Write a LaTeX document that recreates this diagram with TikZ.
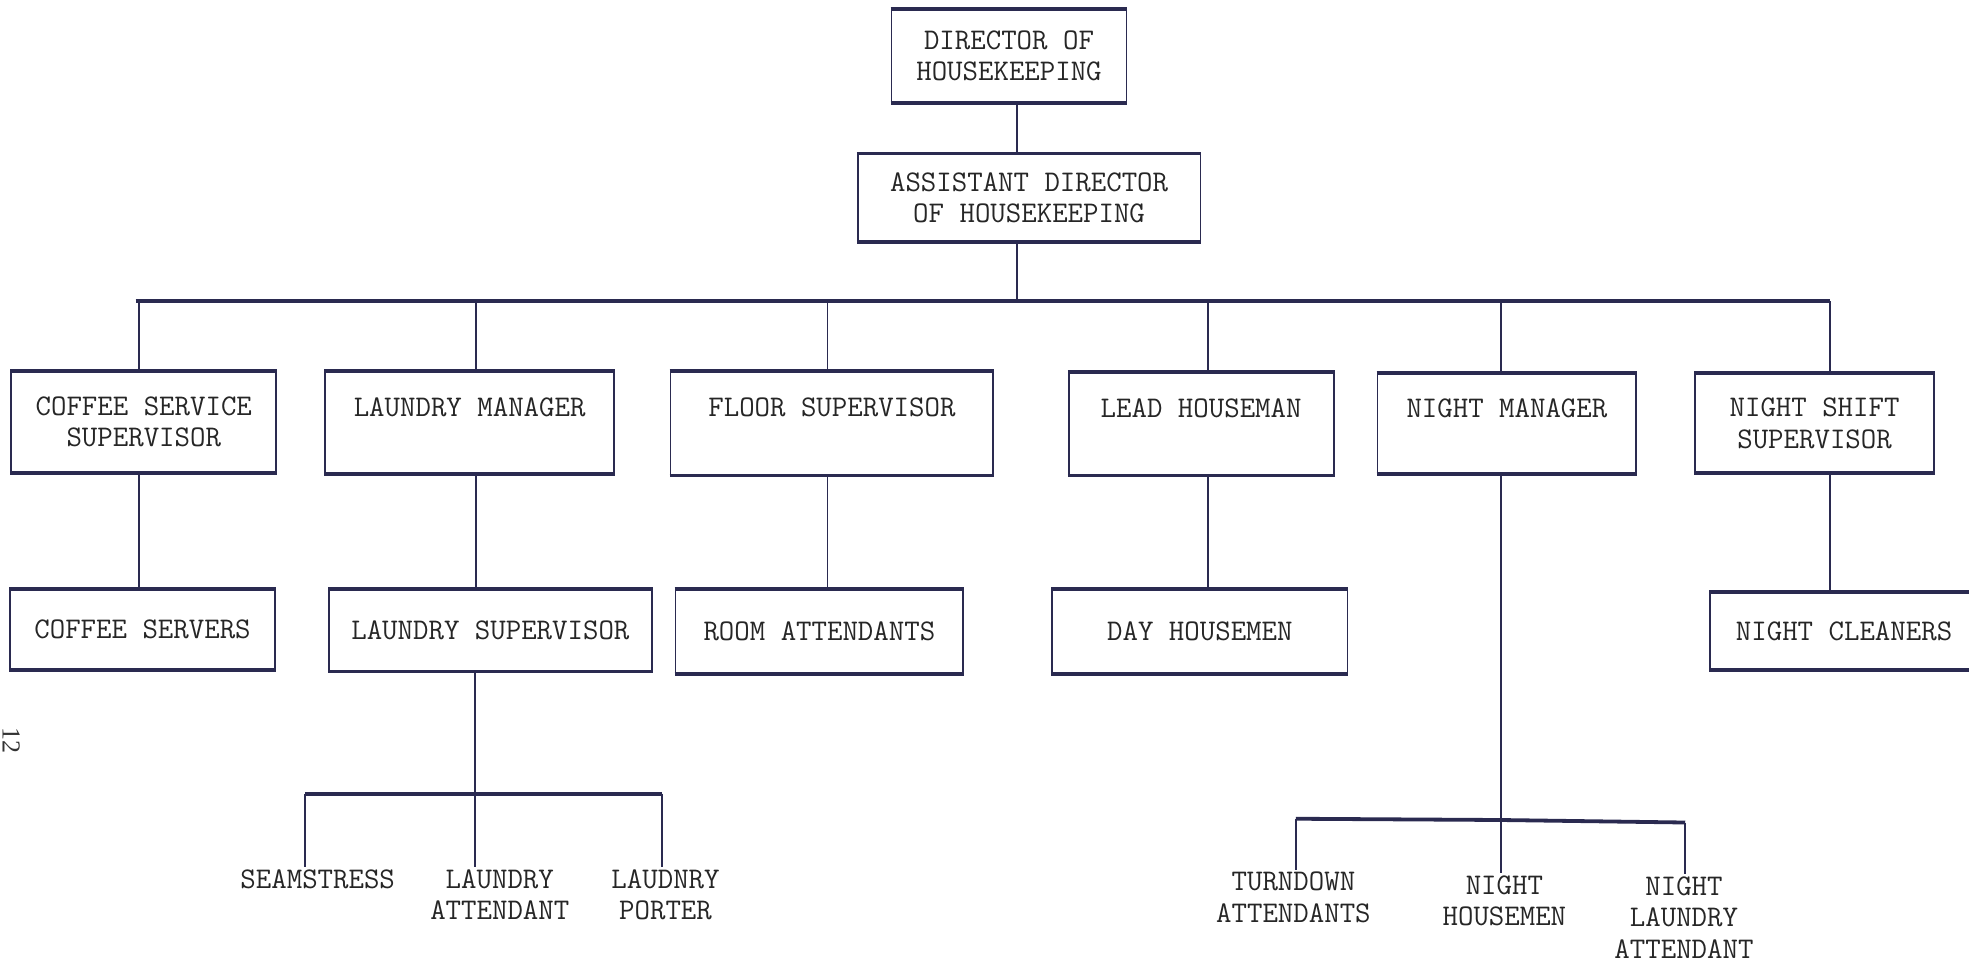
\documentclass[tikz,border=0pt]{standalone}
\usepackage{fontspec}
\newfontfamily\pgnumfont{Liberation Serif}
\def\upx{0.628pt}
\begin{document}
\begin{tikzpicture}[x=0.628pt,y=-0.628pt,
  box/.style={draw=inkc, line width=0.9pt, inner sep=0pt, align=center, text=black!85,
     font=\ttfamily\fontsize{15}{15.7}\selectfont},
  lbl/.style={inner sep=1pt, align=center, text=black!85,
     font=\ttfamily\fontsize{15}{15.7}\selectfont},
  conn/.style={draw=inkc, line width=0.9pt},
  heavy/.style={draw=inkc, line width=1.9pt},
]
\definecolor{inkc}{HTML}{2A2A50}
\useasboundingbox (0,0) rectangle (1568,767);
\fill[white] (0,0) rectangle (1568,767);

% top
\node[box, minimum width={187*\upx}, minimum height={73*\upx}] (dir) at (803.5,44.5) {DIRECTOR OF\\HOUSEKEEPING};
\node[box, minimum width={273*\upx}, minimum height={69*\upx}] (adir) at (819.5,157.5) {ASSISTANT DIRECTOR\\OF HOUSEKEEPING};

% level 2
\node[box, minimum width={211*\upx}, minimum height={80*\upx}] (cs) at (114.5,336) {COFFEE SERVICE\\SUPERVISOR};
\node[box, minimum width={230*\upx}, minimum height={81*\upx}] (lm) at (374,336.5) {LAUNDRY MANAGER\\\mbox{}};
\node[box, minimum width={257*\upx}, minimum height={82*\upx}] (fs) at (662.5,337) {FLOOR SUPERVISOR\\\mbox{}};
\node[box, minimum width={211*\upx}, minimum height={81*\upx}] (lh) at (956.5,337.5) {LEAD HOUSEMAN\\\mbox{}};
\node[box, minimum width={206*\upx}, minimum height={79*\upx}] (nm) at (1200,337.5) {NIGHT MANAGER\\\mbox{}};
\node[box, minimum width={190*\upx}, minimum height={78*\upx}] (ns) at (1445,337) {NIGHT SHIFT\\SUPERVISOR};

% level 3
\node[box, minimum width={211*\upx}, minimum height={63*\upx}] (csv) at (113.5,501.5) {COFFEE SERVERS};
\node[box, minimum width={257*\upx}, minimum height={64*\upx}] (lsup) at (390.5,502) {LAUNDRY SUPERVISOR};
\node[box, minimum width={229*\upx}, minimum height={66*\upx}] (ra) at (652.5,503) {ROOM ATTENDANTS};
\node[box, minimum width={235*\upx}, minimum height={66*\upx}] (dh) at (955.5,503) {DAY HOUSEMEN};
\node[box, minimum width={213*\upx}, minimum height={61*\upx}] (nc) at (1468.5,502.5) {NIGHT CLEANERS};

% heavier top and bottom edges
\foreach \n in {dir,adir,cs,lm,fs,lh,nm,ns,csv,lsup,ra,dh,nc}{
  \draw[heavy] (\n.north west) -- (\n.north east);
  \draw[heavy] (\n.south west) -- (\n.south east);
}

% bottom labels
\node[lbl] (seam) at (253,700) {SEAMSTRESS};
\node[lbl] (latt) at (398,712.5) {LAUNDRY\\ATTENDANT};
\node[lbl] (lpor) at (530,712.5) {LAUDNRY\\PORTER};
\node[lbl] (turn) at (1030,714.5) {TURNDOWN\\ATTENDANTS};
\node[lbl] (nhou) at (1198,717.5) {NIGHT\\HOUSEMEN};
\node[lbl] (nlat) at (1341,730.5) {NIGHT\\LAUNDRY\\ATTENDANT};

% page number
\node[inner sep=0pt, rotate=-90, font=\pgnumfont\fontsize{13}{15}\selectfont, text=black!80] (pg) at (9,590) {12};

% main bus
\coordinate (bmid) at (810,240);
\coordinate (busL) at (108,240);
\coordinate (busR) at (1457,240);
\coordinate (b1) at (111,240);
\coordinate (b2) at (379,240);
\coordinate (b3) at (659,240);
\coordinate (b4) at (962,240);
\coordinate (b5) at (1195,240);
\coordinate (b6) at (1457,240);

\draw[conn] (bmid |- dir.south) -- (bmid |- adir.north);
\draw[conn] (bmid |- adir.south) -- (bmid);
\draw[heavy] (busL) -- (busR);
\foreach \b/\n/\m in {b1/cs/csv,b2/lm/lsup,b3/fs/ra,b4/lh/dh,b6/ns/nc}{
  \draw[conn] (\b) -- (\b |- \n.north);
  \draw[conn] (\b |- \n.south) -- (\b |- \m.north);
}
\draw[conn] (b5) -- (b5 |- nm.north);

% laundry sub-bus
\coordinate (lb1) at (243,632);
\coordinate (lb2) at (378,632);
\coordinate (lb3) at (527,632);
\draw[conn] (lb2 |- lsup.south) -- (lb2 |- latt.north);
\draw[heavy] (lb1) -- (lb3);
\draw[conn] (lb1) -- (lb1 |- seam.north);
\draw[conn] (lb3) -- (lb3 |- lpor.north);

% night sub-bus
\coordinate (nb1) at (1032,652);
\coordinate (nb2) at (1195,653);
\coordinate (nb3) at (1342,655);
\draw[conn] (nb2 |- nm.south) -- (nb2 |- nhou.north);
\draw[heavy] (nb1) -- (nb2) -- (nb3);
\draw[conn] (nb1) -- (nb1 |- turn.north);
\draw[conn] (nb3) -- (nb3 |- nlat.north);
\end{tikzpicture}
\end{document}
